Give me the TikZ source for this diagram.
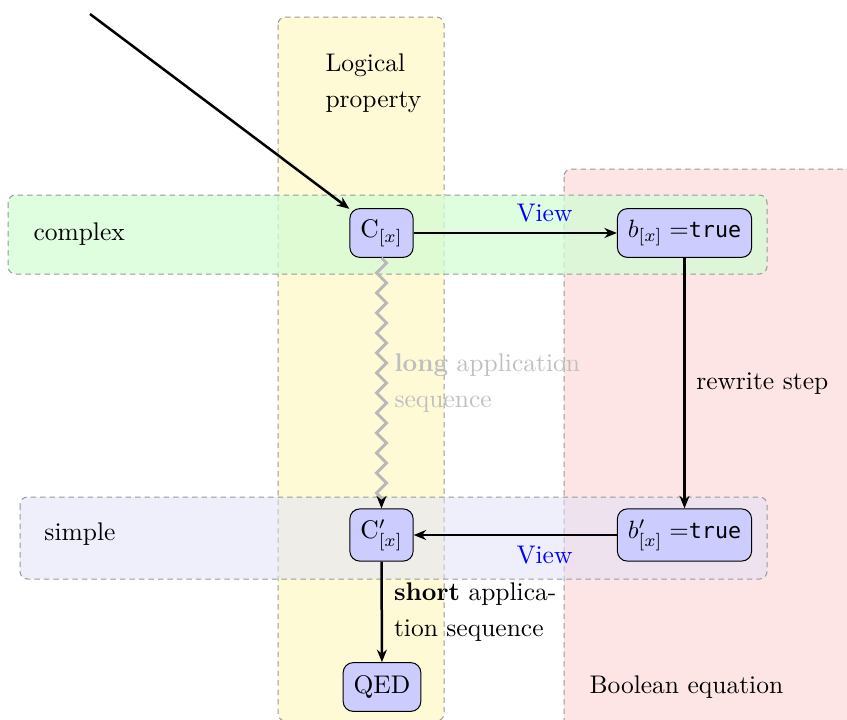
\documentclass[tikz,border=0pt]{standalone}
\usepackage{fontspec}
\setmonofont[Scale=0.85]{DejaVu Sans Mono}
\usepackage{tikz}
\usetikzlibrary{arrows.meta, decorations.pathmorphing}
\definecolor{colY}{rgb}{1,0.96,0.68}
\definecolor{colR}{rgb}{0.99,0.8,0.8}
\definecolor{colG}{rgb}{0.83,0.99,0.83}
\definecolor{colB}{rgb}{0.88,0.88,0.98}

\begin{document}
\begin{tikzpicture}[x=0.4pt, y=-0.4pt, font=\fontsize{10.2}{14.6}\selectfont,
    stmt/.style={draw, fill=blue!20, rounded corners=4pt, inner sep=4.2pt, minimum height=19.5pt},
    band/.style={draw=gray!80, dash pattern=on 2.2pt off 1.6pt, rounded corners=3pt},
    bandlbl/.style={inner sep=0pt, align=left},
    arr/.style={line width=1pt, -{Stealth[length=5pt, width=4pt]}},
    view/.style={text=blue, inner xsep=0pt, inner ysep=4pt}
  ]
  \path[use as bounding box] (0,0) rectangle (847,720);
  \clip (0,0) rectangle (847,720);
  % columns
  \draw[band, fill=colY, fill opacity=0.5] (278,17) rectangle (444,721);
  \draw[band, fill=colR, fill opacity=0.5] (564,169) rectangle (900,760);
  % rows
  \draw[band, fill=colG, fill opacity=0.75] (8,195) rectangle (767,274);
  \draw[band, fill=colB, fill opacity=0.5] (20,497) rectangle (767,579);
  % band labels
  \node[bandlbl, anchor=north west] (logic) at (325,53) {Logical\\property};
  \node[bandlbl, anchor=west] (cplx) at (33,234) {complex};
  \node[bandlbl, anchor=west] (simp) at (44,534) {simple};
  \node[bandlbl, anchor=west] (booleq) at (589,687) {Boolean equation};
  % statements
  \node[stmt] (C) at (381.5,233) {$\mathrm{C}_{[x]}$};
  \node[stmt] (b) at (684.5,233) {$b_{[x]} =$\texttt{true}};
  \node[stmt] (Cs) at (381.5,535) {$\mathrm{C}'_{[x]}$};
  \node[stmt] (bs) at (684.5,535) {$b'_{[x]} =$\texttt{true}};
  \node[stmt] (qed) at (382,687) {QED};
  \coordinate (in) at (90,14);
  % arrows
  \draw[arr] (in) -- (C);
  \draw[arr] (C) -- node[view, anchor=south west] {View} (b);
  \draw[arr] (b) -- node[anchor=west, inner sep=4.2pt] {rewrite step} (bs);
  \draw[arr] (bs) -- node[view, anchor=north west] {View} (Cs);
  \draw[gray!55, line width=1.2pt, decorate,
    decoration={zigzag, segment length=8pt, amplitude=2pt, post length=3pt},
    -{Stealth[length=5pt, width=4pt, color=black]}]
    (C) -- node[anchor=west, align=left, inner sep=4.6pt, text=gray!50] {\textbf{long} application\\sequence} (Cs);
  \draw[arr] (Cs) -- node[anchor=west, align=left, inner sep=4.4pt] {\textbf{short} applica-\\tion sequence} (qed);
\end{tikzpicture}
\end{document}
